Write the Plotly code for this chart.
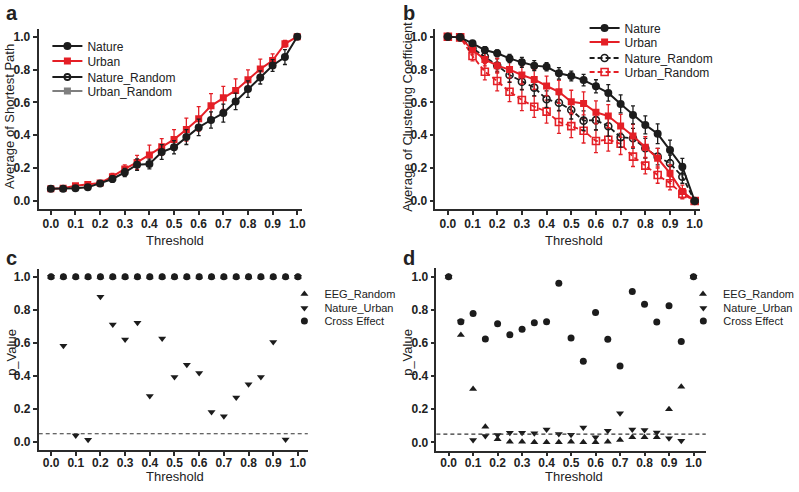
import plotly.graph_objects as go

W, H = 799, 492

threshold = [0.0, 0.05, 0.1, 0.15, 0.2, 0.25, 0.3, 0.35, 0.4, 0.45, 0.5,
             0.55, 0.6, 0.65, 0.7, 0.75, 0.8, 0.85, 0.9, 0.95, 1.0]
tick_vals = [0.0, 0.1, 0.2, 0.3, 0.4, 0.5, 0.6, 0.7, 0.8, 0.9, 1.0]
tick_text = ["0.0", "0.1", "0.2", "0.3", "0.4", "0.5", "0.6", "0.7", "0.8", "0.9", "1.0"]
y_tick_vals = [0.0, 0.2, 0.4, 0.6, 0.8, 1.0]
y_tick_text = ["0.0", "0.2", "0.4", "0.6", "0.8", "1.0"]

# Panel a: average shortest path
nature_sp = [0.075, 0.075, 0.077, 0.083, 0.107, 0.134, 0.174, 0.221, 0.225, 0.298, 0.327,
             0.389, 0.448, 0.493, 0.535, 0.606, 0.681, 0.752, 0.825, 0.876, 1.0]
nature_sp_err = [0.005, 0.005, 0.008, 0.01, 0.012, 0.02, 0.025, 0.035, 0.03, 0.045, 0.04,
                 0.045, 0.05, 0.05, 0.055, 0.05, 0.05, 0.04, 0.036, 0.045, 0.0]
urban_sp = [0.075, 0.077, 0.093, 0.101, 0.11, 0.148, 0.195, 0.235, 0.28, 0.33, 0.375,
            0.435, 0.5, 0.579, 0.628, 0.673, 0.738, 0.803, 0.855, 0.957, 1.0]
urban_sp_err = [0.005, 0.006, 0.01, 0.012, 0.012, 0.02, 0.025, 0.043, 0.06, 0.05, 0.06,
                0.07, 0.075, 0.075, 0.07, 0.07, 0.06, 0.06, 0.04, 0.02, 0.0]

# Panel b: average clustering coefficient
nature_cc = [1.0, 0.996, 0.96, 0.919, 0.899, 0.868, 0.844, 0.824, 0.817, 0.777, 0.761,
             0.736, 0.698, 0.658, 0.591, 0.524, 0.463, 0.409, 0.311, 0.209, 0.0]
nature_cc_err = [0.0, 0.005, 0.015, 0.02, 0.02, 0.025, 0.03, 0.03, 0.025, 0.035, 0.03,
                 0.035, 0.04, 0.05, 0.055, 0.055, 0.055, 0.06, 0.06, 0.05, 0.0]
urban_cc = [1.0, 0.996, 0.919, 0.862, 0.824, 0.80, 0.767, 0.74, 0.70, 0.665, 0.604,
            0.594, 0.54, 0.517, 0.457, 0.396, 0.327, 0.26, 0.169, 0.057, 0.0]
urban_cc_err = [0.0, 0.005, 0.03, 0.04, 0.045, 0.05, 0.055, 0.06, 0.06, 0.07, 0.07,
                0.07, 0.07, 0.07, 0.07, 0.07, 0.065, 0.06, 0.05, 0.04, 0.0]
nature_rand_cc = [1.0, 0.996, 0.93, 0.88, 0.825, 0.767, 0.726, 0.69, 0.62, 0.598, 0.554,
                  0.489, 0.492, 0.455, 0.388, 0.382, 0.321, 0.27, 0.23, 0.148, 0.0]
nature_rand_cc_err = [0.0, 0.005, 0.025, 0.03, 0.04, 0.045, 0.05, 0.05, 0.05, 0.05, 0.055,
                      0.06, 0.06, 0.06, 0.06, 0.06, 0.06, 0.05, 0.05, 0.04, 0.0]
urban_rand_cc = [1.0, 0.996, 0.883, 0.787, 0.73, 0.665, 0.615, 0.574, 0.544, 0.481, 0.456,
                 0.428, 0.365, 0.373, 0.348, 0.27, 0.215, 0.158, 0.108, 0.043, 0.0]
urban_rand_cc_err = [0.0, 0.005, 0.03, 0.05, 0.06, 0.06, 0.065, 0.065, 0.07, 0.07, 0.07,
                     0.075, 0.07, 0.07, 0.065, 0.06, 0.05, 0.05, 0.04, 0.03, 0.0]

# Panel c: p values (shortest path)
eeg_random_c = [1.0, 1.0, 1.0, 1.0, 1.0, 1.0, 1.0, 1.0, 1.0, 1.0, 1.0,
                1.0, 1.0, 1.0, 1.0, 1.0, 1.0, 1.0, 1.0, 1.0, 1.0]
nature_urban_c = [1.0, 0.582, 0.04, 0.014, 0.879, 0.711, 0.62, 0.721, 0.279, 0.626, 0.394,
                  0.467, 0.418, 0.182, 0.156, 0.269, 0.35, 0.394, 0.606, 0.016, 1.0]
cross_c = [1.0, 1.0, 1.0, 1.0, 1.0, 1.0, 1.0, 1.0, 1.0, 1.0, 1.0,
           1.0, 1.0, 1.0, 1.0, 1.0, 1.0, 1.0, 1.0, 1.0, 1.0]

# Panel d: p values (clustering coefficient)
eeg_random_d = [1.0, 0.648, 0.322, 0.094, 0.018, 0.004, 0.004, 0.0, 0.0, 0.0, 0.004,
                0.0, 0.0, 0.004, 0.014, 0.03, 0.03, 0.03, 0.2, 0.336, 1.0]
nature_urban_d = [1.0, 0.73, 0.014, 0.038, 0.044, 0.058, 0.058, 0.054, 0.078, 0.05, 0.046,
                  0.09, 0.03, 0.07, 0.175, 0.078, 0.075, 0.06, 0.024, 0.01, 1.0]
cross_d = [1.0, 0.728, 0.777, 0.624, 0.716, 0.65, 0.682, 0.722, 0.728, 0.96, 0.63,
           0.489, 0.783, 0.622, 0.461, 0.911, 0.833, 0.726, 0.825, 0.608, 1.0]

alpha_level = 0.05

RED = "#e41f26"
BLACK = "#1c1c1c"
GRAY = "#7f7f7f"
AX = "#2b2b2b"
FONT = "Liberation Sans, Arial, sans-serif"


def px_x(p):
    return p / W


def px_y(p):
    return 1 - p / H


fig = go.Figure()
legend_layout = {}
legend_count = [0]


def new_legend(x_px, y_px, size):
    legend_count[0] += 1
    n = legend_count[0]
    key = "legend" if n == 1 else "legend%d" % n
    legend_layout[key] = dict(x=px_x(x_px), y=px_y(y_px), xanchor="left", yanchor="middle",
                              bgcolor="rgba(0,0,0,0)", font=dict(size=size, color="#222222"),
                              itemclick=False, itemdoubleclick=False)
    return key


def err(arr, color):
    return dict(type="data", array=arr, visible=True, color=color, thickness=1.3, width=2)


# ---- Panel a ----
LA_X = 48
fig.add_trace(go.Scatter(x=threshold, y=urban_sp, name="Urban", mode="lines+markers",
                         line=dict(color=RED, width=2), marker=dict(symbol="square", size=7, color=RED),
                         error_y=err(urban_sp_err, RED), xaxis="x", yaxis="y",
                         legend=new_legend(LA_X, 61, 12)))
fig.add_trace(go.Scatter(x=threshold, y=nature_sp, name="Nature", mode="lines+markers",
                         line=dict(color=BLACK, width=2), marker=dict(symbol="circle", size=8, color=BLACK),
                         error_y=err(nature_sp_err, BLACK), xaxis="x", yaxis="y",
                         legend=new_legend(LA_X, 46, 12)))
fig.add_trace(go.Scatter(x=[None], y=[None], name="Nature_Random", mode="lines+markers",
                         line=dict(color=BLACK, width=2),
                         marker=dict(symbol="circle-open", size=6, color=BLACK, line=dict(width=1.8)),
                         xaxis="x", yaxis="y", showlegend=True,
                         legend=new_legend(LA_X, 77, 12)))
fig.add_trace(go.Scatter(x=[None], y=[None], name="Urban_Random", mode="lines+markers",
                         line=dict(color=GRAY, width=2),
                         marker=dict(symbol="square", size=7, color=GRAY),
                         xaxis="x", yaxis="y", showlegend=True,
                         legend=new_legend(LA_X, 91, 12)))

# ---- Panel b ----
LB_X = 592
fig.add_trace(go.Scatter(x=threshold, y=urban_rand_cc, name="Urban_Random", mode="lines+markers",
                         line=dict(color=RED, width=1.8, dash="5px,3px"),
                         marker=dict(symbol="square-open", size=7, color=RED, line=dict(width=1.6)),
                         error_y=err(urban_rand_cc_err, RED), xaxis="x2", yaxis="y2",
                         legend=new_legend(LB_X, 72, 12)))
fig.add_trace(go.Scatter(x=threshold, y=nature_rand_cc, name="Nature_Random", mode="lines+markers",
                         line=dict(color=BLACK, width=1.8, dash="5px,3px"),
                         marker=dict(symbol="circle-open", size=7, color=BLACK, line=dict(width=1.6)),
                         error_y=err(nature_rand_cc_err, BLACK), xaxis="x2", yaxis="y2",
                         legend=new_legend(LB_X, 58, 12)))
fig.add_trace(go.Scatter(x=threshold, y=urban_cc, name="Urban", mode="lines+markers",
                         line=dict(color=RED, width=2), marker=dict(symbol="square", size=7, color=RED),
                         error_y=err(urban_cc_err, RED), xaxis="x2", yaxis="y2",
                         legend=new_legend(LB_X, 42, 12)))
fig.add_trace(go.Scatter(x=threshold, y=nature_cc, name="Nature", mode="lines+markers",
                         line=dict(color=BLACK, width=2), marker=dict(symbol="circle", size=8, color=BLACK),
                         error_y=err(nature_cc_err, BLACK), xaxis="x2", yaxis="y2",
                         legend=new_legend(LB_X, 28, 12)))

# ---- Panel c ----
LC_X = 288
fig.add_trace(go.Scatter(x=threshold, y=eeg_random_c, name="EEG_Random", mode="markers",
                         marker=dict(symbol="triangle-up", size=7, color=BLACK),
                         xaxis="x3", yaxis="y3", legend=new_legend(LC_X, 294, 11)))
fig.add_trace(go.Scatter(x=threshold, y=nature_urban_c, name="Nature_Urban", mode="markers",
                         marker=dict(symbol="triangle-down", size=7, color=BLACK),
                         xaxis="x3", yaxis="y3", legend=new_legend(LC_X, 308, 11)))
fig.add_trace(go.Scatter(x=threshold, y=cross_c, name="Cross Effect", mode="markers",
                         marker=dict(symbol="circle", size=7, color=BLACK),
                         xaxis="x3", yaxis="y3", legend=new_legend(LC_X, 321, 11)))

# ---- Panel d ----
LD_X = 692
fig.add_trace(go.Scatter(x=threshold, y=eeg_random_d, name="EEG_Random", mode="markers",
                         marker=dict(symbol="triangle-up", size=7, color=BLACK),
                         xaxis="x4", yaxis="y4", legend=new_legend(LD_X, 294, 11)))
fig.add_trace(go.Scatter(x=threshold, y=nature_urban_d, name="Nature_Urban", mode="markers",
                         marker=dict(symbol="triangle-down", size=7, color=BLACK),
                         xaxis="x4", yaxis="y4", legend=new_legend(LD_X, 308, 11)))
fig.add_trace(go.Scatter(x=threshold, y=cross_d, name="Cross Effect", mode="markers",
                         marker=dict(symbol="circle", size=7, color=BLACK),
                         xaxis="x4", yaxis="y4", legend=new_legend(LD_X, 321, 11)))

# significance lines
for ax in ["3", "4"]:
    fig.add_shape(type="line", xref="x%s domain" % ax, yref="y%s" % ax, x0=0, x1=1,
                  y0=alpha_level, y1=alpha_level,
                  line=dict(color="#333333", width=1.2, dash="4px,3px"))


def xaxis(domain, anchor, rng, standoff):
    return dict(domain=domain, anchor=anchor, range=rng, showgrid=False, zeroline=False,
                showline=True, linecolor=AX, linewidth=1.6, ticks="outside", ticklen=4,
                tickwidth=1.5, tickcolor=AX, tickvals=tick_vals, ticktext=tick_text,
                tickfont=dict(family=FONT, size=12, color="#222222", weight="bold"),
                ticklabelstandoff=standoff, automargin=False, fixedrange=True)


def yaxis(domain, anchor):
    return dict(domain=domain, anchor=anchor, range=[-0.05, 1.05], showgrid=False, zeroline=False,
                showline=True, linecolor=AX, linewidth=1.6, ticks="outside", ticklen=4,
                tickwidth=1.5, tickcolor=AX, tickvals=y_tick_vals, ticktext=y_tick_text,
                tickfont=dict(family=FONT, size=12, color="#222222", weight="bold"),
                automargin=False, fixedrange=True)


fig.update_layout(
    width=W, height=H,
    margin=dict(l=0, r=0, t=0, b=0),
    paper_bgcolor="white", plot_bgcolor="white",
    font=dict(family=FONT, size=13, color="#222222"),
    xaxis=xaxis([px_x(39), px_x(306)], "y", [-0.05, 1.02], -1),
    yaxis=yaxis([px_y(209.2), px_y(28.5)], "x"),
    xaxis2=xaxis([px_x(441), px_x(708.5)], "y2", [-0.05, 1.02], -1),
    yaxis2=yaxis([px_y(209.2), px_y(28.5)], "x2"),
    xaxis3=xaxis([px_x(39.2), px_x(311.7)], "y3", [-0.05, 1.04], -4),
    yaxis3=yaxis([px_y(450.3), px_y(268.5)], "x3"),
    xaxis4=xaxis([px_x(441.9), px_x(714.7)], "y4", [-0.05, 1.05], -4),
    yaxis4=yaxis([px_y(450.6), px_y(268.4)], "x4"),
    showlegend=True,
    **legend_layout,
)

annotations = [
    # panel letters
    dict(text="<b>a</b>", x=px_x(5), y=px_y(25), xanchor="left", yanchor="bottom", font=dict(size=20)),
    dict(text="<b>b</b>", x=px_x(407), y=px_y(25), xanchor="left", yanchor="bottom", font=dict(size=20)),
    dict(text="<b>c</b>", x=px_x(5), y=px_y(270), xanchor="left", yanchor="bottom", font=dict(size=20)),
    dict(text="<b>d</b>", x=px_x(407), y=px_y(270), xanchor="left", yanchor="bottom", font=dict(size=20)),
    # axis titles
    dict(text="Threshold", x=px_x(177), y=px_y(241), xanchor="center", yanchor="middle", font=dict(size=13)),
    dict(text="Threshold", x=px_x(581), y=px_y(241), xanchor="center", yanchor="middle", font=dict(size=13)),
    dict(text="Threshold", x=px_x(177), y=px_y(476), xanchor="center", yanchor="middle", font=dict(size=13)),
    dict(text="Threshold", x=px_x(581), y=px_y(476), xanchor="center", yanchor="middle", font=dict(size=13)),
    dict(text="Average of Shortest Path", x=px_x(9), y=px_y(116), xanchor="center", yanchor="middle",
         textangle=-90, font=dict(size=13)),
    dict(text="Average of Clustering Coefficient", x=px_x(412), y=px_y(117), xanchor="center",
         yanchor="middle", textangle=-90, font=dict(size=13)),
    dict(text="p_Value", x=px_x(11), y=px_y(352), xanchor="center", yanchor="middle",
         textangle=-90, font=dict(size=13)),
    dict(text="p_Value", x=px_x(412), y=px_y(352), xanchor="center", yanchor="middle",
         textangle=-90, font=dict(size=13)),
]
for a in annotations:
    a.update(xref="paper", yref="paper", showarrow=False, borderpad=0)
fig.update_layout(annotations=annotations)

fig.write_html("out.html", config={"displayModeBar": False},
               post_script="document.body.style.margin='0px';")
